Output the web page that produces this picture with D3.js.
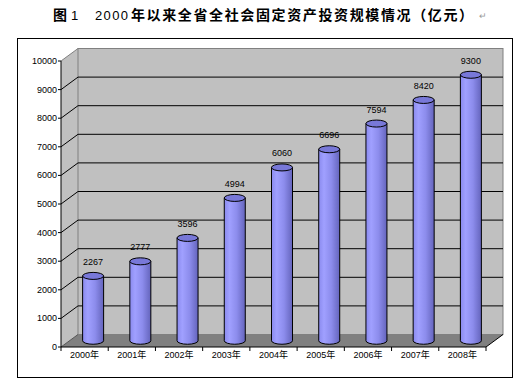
<!DOCTYPE html>
<meta charset="utf-8">
<head>
<script src="https://d3js.org/d3.v7.min.js"></script>
<style>
body { margin: 0; background: #fff; }
.tick-label { font: 9px "Liberation Sans", Arial, sans-serif; }
.cat-label { font: 9px "Liberation Sans", "Noto Sans CJK SC", sans-serif; }
</style>
</head>
<body>
<script>

// data
var years = ["2000年", "2001年", "2002年", "2003年", "2004年", "2005年", "2006年", "2007年", "2008年"];
var values = [2267, 2777, 3596, 4994, 6060, 6696, 7594, 8420, 9300];
var yTicks = [0, 1000, 2000, 3000, 4000, 5000, 6000, 7000, 8000, 9000, 10000];

var W = 521, H = 382;
var plotLeft = 61, plotRight = 486, plotBottom = 347, plotTop = 61;
var dx = 17, dy = -12.5;   // 3d depth offset

var svg = d3.select("body").append("svg")
    .attr("width", W)
    .attr("height", H);

// gradient for the cylinders
var defs = svg.append("defs");
var grad = defs.append("linearGradient").attr("id", "cyl")
    .attr("x1", "0%").attr("x2", "100%").attr("y1", "0%").attr("y2", "0%");
grad.append("stop").attr("offset", "0%").attr("stop-color", "#8a8aee");
grad.append("stop").attr("offset", "25%").attr("stop-color", "#a0a0ff");
grad.append("stop").attr("offset", "60%").attr("stop-color", "#8c8cec");
grad.append("stop").attr("offset", "100%").attr("stop-color", "#6464bc");

// title
var title = svg.append("g");
title.append("text")
    .attr("x", 53).attr("y", 20)
    .style("font", "bold 14px 'Noto Sans CJK SC', sans-serif")
    .text("图");
title.append("text")
    .attr("x", 71).attr("y", 20)
    .style("font", "13px 'Liberation Sans', sans-serif")
    .text("1");
title.append("text")
    .attr("x", 95).attr("y", 20)
    .style("font", "13px 'Liberation Sans', sans-serif")
    .attr("textLength", 33)
    .text("2000");
title.append("text")
    .attr("x", 131).attr("y", 20)
    .style("font", "bold 14px 'Noto Sans CJK SC', sans-serif")
    .attr("textLength", 342)
    .attr("lengthAdjust", "spacing")
    .text("年以来全省全社会固定资产投资规模情况（亿元）");
title.append("text")
    .attr("x", 479).attr("y", 19)
    .style("font", "9px 'Noto Sans CJK SC', sans-serif")
    .style("fill", "#999")
    .text("↵");

// outer frame
svg.append("rect")
    .attr("x", 17.5).attr("y", 38.5)
    .attr("width", 495).attr("height", 339)
    .attr("fill", "none")
    .attr("stroke", "#000");

// scales
var x = d3.scaleBand().domain(years).range([plotLeft, plotRight]);
var y = d3.scaleLinear().domain([0, 10000]).range([plotBottom, plotTop]);

// side wall
svg.append("polygon")
    .attr("points", [[plotLeft, y(0)], [plotLeft + dx, y(0) + dy], [plotLeft + dx, y(10000) + dy], [plotLeft, y(10000)]].join(" "))
    .attr("fill", "#c0c0c0");

// back wall
svg.append("rect")
    .attr("x", plotLeft + dx).attr("y", y(10000) + dy)
    .attr("width", plotRight - plotLeft).attr("height", y(0) - y(10000))
    .attr("fill", "#c0c0c0")
    .attr("stroke", "#808080");

// side wall top edge
svg.append("line")
    .attr("x1", plotLeft).attr("y1", y(10000))
    .attr("x2", plotLeft + dx).attr("y2", y(10000) + dy)
    .attr("stroke", "#808080");

// gridlines on back wall and side wall
var grid = yTicks.filter(function(d) { return d > 0 && d < 10000; });
svg.selectAll(".grid").data(grid).enter().append("line")
    .attr("class", "grid")
    .attr("x1", plotLeft + dx).attr("x2", plotRight + dx)
    .attr("y1", function(d) { return y(d) + dy; })
    .attr("y2", function(d) { return y(d) + dy; })
    .attr("stroke", "#000");
svg.selectAll(".diag").data(grid).enter().append("line")
    .attr("class", "diag")
    .attr("x1", plotLeft).attr("x2", plotLeft + dx)
    .attr("y1", function(d) { return y(d); })
    .attr("y2", function(d) { return y(d) + dy; })
    .attr("stroke", "#000");

// floor
svg.append("polygon")
    .attr("points", [[plotLeft, y(0)], [plotRight, y(0)], [plotRight + dx, y(0) + dy], [plotLeft + dx, y(0) + dy]].join(" "))
    .attr("fill", "#808080");
svg.append("line")
    .attr("x1", plotRight).attr("y1", y(0))
    .attr("x2", plotRight + dx).attr("y2", y(0) + dy)
    .attr("stroke", "#000");
svg.append("line")
    .attr("x1", plotLeft).attr("y1", y(0))
    .attr("x2", plotLeft + dx).attr("y2", y(0) + dy)
    .attr("stroke", "#555");

// cylinders
var bw = 21, rx = bw / 2, ry = 3.5;
var data = years.map(function(d, i) { return {year: d, value: values[i]}; });

var bars = svg.selectAll(".bar").data(data).enter().append("g").attr("class", "bar");

bars.append("path")
    .attr("d", function(d) {
      var cx = x(d.year) + x.bandwidth() / 2 + dx / 2;
      var yb = y(0) + dy / 2, yt = y(d.value) + dy / 2;
      return "M" + (cx - rx) + "," + yt +
             "L" + (cx - rx) + "," + yb +
             "A" + rx + "," + ry + " 0 0 0 " + (cx + rx) + "," + yb +
             "L" + (cx + rx) + "," + yt + "Z";
    })
    .attr("fill", "url(#cyl)")
    .attr("stroke", "#000")
    .attr("stroke-width", 1);

bars.append("ellipse")
    .attr("cx", function(d) { return x(d.year) + x.bandwidth() / 2 + dx / 2; })
    .attr("cy", function(d) { return y(d.value) + dy / 2; })
    .attr("rx", rx).attr("ry", ry)
    .attr("fill", "#7878d8")
    .attr("stroke", "#000");

// value labels
bars.append("text")
    .attr("class", "tick-label")
    .attr("x", function(d) { return x(d.year) + x.bandwidth() / 2 + dx / 2; })
    .attr("y", function(d) { return y(d.value) + dy / 2 - 11; })
    .attr("text-anchor", "middle")
    .text(function(d) { return d.value; });

// front axes
svg.append("line")
    .attr("x1", plotLeft).attr("y1", y(0))
    .attr("x2", plotLeft).attr("y2", y(10000))
    .attr("stroke", "#000");
svg.append("line")
    .attr("x1", plotLeft).attr("y1", y(0))
    .attr("x2", plotRight).attr("y2", y(0))
    .attr("stroke", "#000");

// y ticks and labels
svg.selectAll(".ytick").data(yTicks).enter().append("line")
    .attr("class", "ytick")
    .attr("x1", plotLeft - 3).attr("x2", plotLeft)
    .attr("y1", function(d) { return y(d); })
    .attr("y2", function(d) { return y(d); })
    .attr("stroke", "#000");
svg.selectAll(".ylab").data(yTicks).enter().append("text")
    .attr("class", "tick-label")
    .attr("x", plotLeft - 4)
    .attr("y", function(d) { return y(d) + 3; })
    .attr("text-anchor", "end")
    .text(function(d) { return d; });

// x ticks and labels
var xTickPos = years.map(function(d) { return x(d); }).concat([plotRight]);
svg.selectAll(".xtick").data(xTickPos).enter().append("line")
    .attr("class", "xtick")
    .attr("x1", function(d) { return d; }).attr("x2", function(d) { return d; })
    .attr("y1", y(0)).attr("y2", y(0) + 4)
    .attr("stroke", "#000");
svg.selectAll(".xlab").data(years).enter().append("text")
    .attr("class", "cat-label")
    .attr("x", function(d) { return x(d) + x.bandwidth() / 2; })
    .attr("y", y(0) + 11)
    .attr("text-anchor", "middle")
    .text(function(d) { return d; });

</script>
</body>
